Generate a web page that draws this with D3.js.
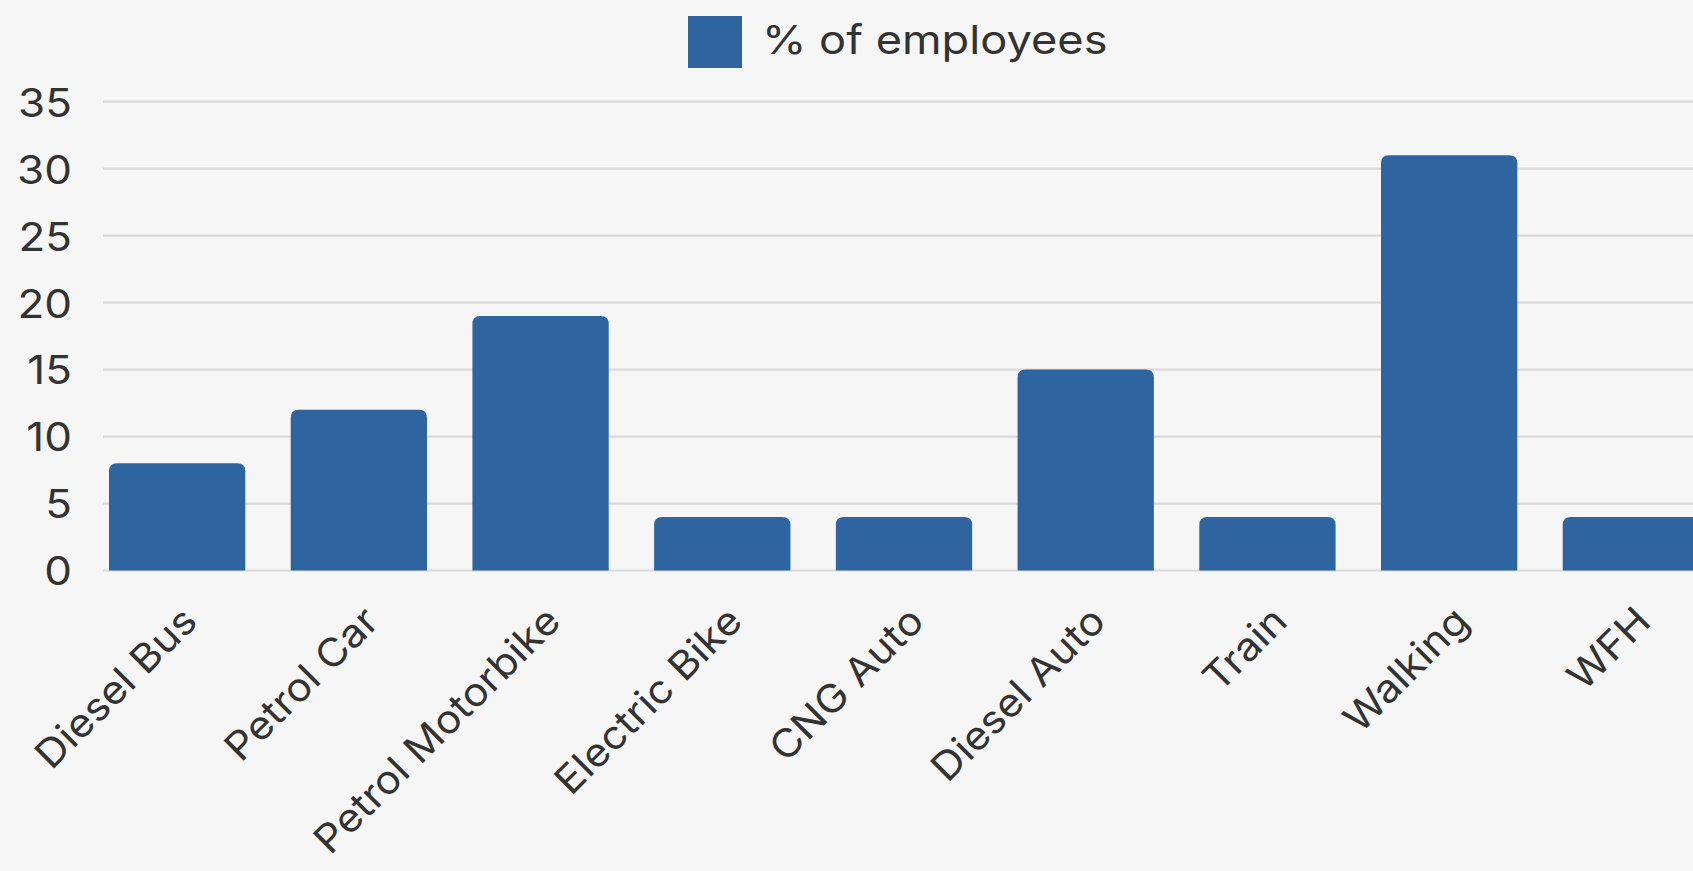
<!DOCTYPE html>
<html>
<head>
<meta charset="utf-8">
<script src="https://cdn.jsdelivr.net/npm/d3@7"></script>
<style>
  html, body { margin: 0; padding: 0; background: #f6f6f6; overflow: hidden; }
  svg { display: block; }
  text { font-family: Inter, "Noto Sans", sans-serif; fill: #333; }
</style>
</head>
<body>
<svg id="chart" width="1693" height="871"></svg>
<script>
const categories = ["Diesel Bus", "Petrol Car", "Petrol Motorbike", "Electric Bike", "CNG Auto", "Diesel Auto", "Train", "Walking", "WFH"];
const values = [8, 12, 19, 4, 4, 15, 4, 31, 4];
const yTicks = [0, 5, 10, 15, 20, 25, 30, 35];
const seriesName = "% of employees";
const barColor = "#2e64a0";

const W = 1693, H = 871;
const svg = d3.select("#chart");
svg.append("rect").attr("width", W).attr("height", H).attr("fill", "#f6f6f6");

const y = d3.scaleLinear().domain([0, 35]).range([570.5, 101.7]);
const x = d3.scaleBand().domain(categories).range([103, 1705]).paddingInner(0.25).paddingOuter(0.033);

// widen text slightly to approximate the wider geometric face of the original
function widen(sel, k) {
  sel.each(function () {
    const len = this.getComputedTextLength();
    d3.select(this).attr("textLength", len * k).attr("lengthAdjust", "spacingAndGlyphs");
  });
}

// y tick labels
const yAxis = d3.axisLeft(y).tickValues(yTicks).tickSize(0).tickPadding(0).tickFormat(d3.format("d"));
const gy = svg.append("g").attr("transform", "translate(72,0)").call(yAxis);
gy.select(".domain").remove();
gy.selectAll("text").attr("font-size", 40).attr("fill", "#333").attr("x", 0).attr("dy", "0.36em")
  .style("font-family", "Inter, 'Noto Sans', sans-serif").call(widen, 1.1);

// gridlines
svg.append("g").selectAll("line").data(yTicks).join("line")
  .attr("x1", 103).attr("x2", W)
  .attr("y1", d => y(d)).attr("y2", d => y(d))
  .attr("stroke", "#dadada").attr("stroke-width", 2.2);

// bars with rounded top corners
const r = 8;
function barPath(d, i) {
  const x0 = x(categories[i]), w = x.bandwidth();
  const yt = y(d), yb = y(0);
  return `M${x0},${yb} L${x0},${yt + r} Q${x0},${yt} ${x0 + r},${yt} L${x0 + w - r},${yt} Q${x0 + w},${yt} ${x0 + w},${yt + r} L${x0 + w},${yb} Z`;
}
svg.append("g").selectAll("path").data(values).join("path")
  .attr("d", (d, i) => barPath(d, i))
  .attr("fill", barColor);

// x labels
const xAxis = d3.axisBottom(x).tickSize(0).tickPadding(0);
const gx = svg.append("g").attr("transform", `translate(0,${y(0)})`).call(xAxis);
gx.select(".domain").remove();
gx.selectAll(".tick text")
  .attr("font-size", 39).attr("fill", "#333")
  .style("font-family", "Inter, 'Noto Sans', sans-serif")
  .attr("text-anchor", "end")
  .attr("y", 0).attr("dy", 0)
  .attr("transform", "translate(22,53) rotate(-45)")
  .call(widen, 1.08);

// legend
const lg = svg.append("g");
lg.append("rect").attr("x", 688).attr("y", 16).attr("width", 54).attr("height", 52).attr("fill", barColor);
lg.append("text").attr("x", 762).attr("y", 54).attr("font-size", 40).attr("fill", "#333").text(seriesName).call(widen, 1.13);
</script>
</body>
</html>
